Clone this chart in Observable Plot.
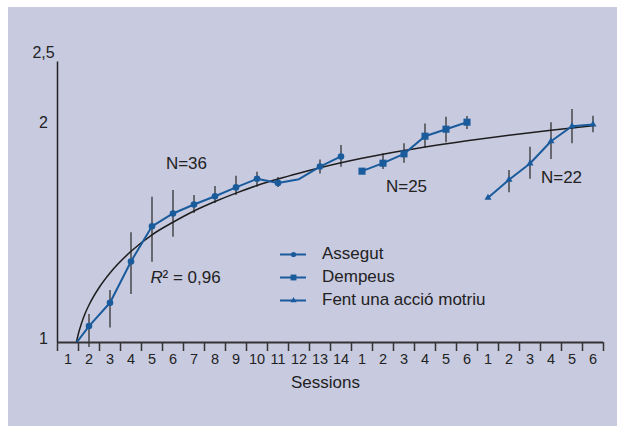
<!DOCTYPE html>
<html><head><meta charset="utf-8">
<script src="https://cdn.jsdelivr.net/npm/d3@7"></script>
<script src="https://cdn.jsdelivr.net/npm/@observablehq/plot@0.6"></script>
<style>
html,body{margin:0;padding:0;background:#fff;}
#frame{position:absolute;left:8px;top:7px;width:609px;height:419px;background:#c8cae0;overflow:hidden;}
#frame svg{position:absolute;left:0;top:0;font-family:"Liberation Sans",Arial,sans-serif;}
#legend{position:absolute;left:272px;top:235px;font-family:"Liberation Sans",Arial,sans-serif;font-size:17px;color:#222;}
#legend .row{display:flex;align-items:center;height:23px;}
#legend .row svg{position:static;margin-right:16px;}
</style></head><body><div id="frame"><div id="legend"></div></div>
<script>
// ---- data ----
const sessionLabels = [1,2,3,4,5,6,7,8,9,10,11,12,13,14, 1,2,3,4,5,6, 1,2,3,4,5,6];
const seriesNames = ["Assegut", "Dempeus", "Fent una acció motriu"];

const assegutPos   = [1,2,3,4,5,6,7,8,9,10,11,12,13,14];
const assegutValue = [0.964,1.054,1.136,1.297,1.452,1.513,1.557,1.599,1.645,1.691,1.669,1.689,1.759,1.817];
const assegutLow   = [null,0.984,1.048,1.167,1.294,1.402,1.513,1.562,1.603,1.646,1.645,null,1.718,1.755];
const assegutHigh  = [null,1.094,1.182,1.422,1.594,1.629,1.603,1.650,1.705,1.727,1.698,null,1.797,1.882];
const assegutMarker = [false,true,true,true,true,true,true,true,true,true,true,false,true,true];

const dempeusPos   = [15,16,17,18,19,20];
const dempeusValue = [1.733,1.778,1.832,1.939,1.983,2.028];
const dempeusLow   = [null,1.742,1.778,1.866,1.898,1.981];
const dempeusHigh  = [null,1.832,1.892,2.017,2.061,2.065];

const fentPos   = [21,22,23,24,25,26];
const fentValue = [1.591,1.686,1.776,1.908,2.002,2.013];
const fentLow   = [null,1.617,1.688,1.799,1.892,1.960];
const fentHigh  = [null,1.737,1.872,2.024,2.112,2.067];

// logarithmic fit curve
const fitPos   = [1.4,1.5,1.65,1.8,2,2.5,3,4,5,6,7,8,9,10,11,12,13,14,15,16,18,20,22,24,26];
const fitValue = [1.000,1.030,1.065,1.095,1.128,1.195,1.250,1.340,1.413,1.471,1.525,1.572,1.615,1.655,1.690,1.722,1.752,1.780,1.806,1.830,1.873,1.911,1.945,1.976,2.005];

const yTicks = [1, 2, 2.5];
const yTickLabels = ["1", "2", "2,5"];
const yAxisTop = 2.46;

const annotations = [
  {x: 6.64, y: 1.776, text: "N=36"},
  {x: 17.12, y: 1.650, text: "N=25"},
  {x: 24.5, y: 1.698, text: "N=22"}
];
const r2 = {x: 4.93, y: 1.232, text: "0,96"};

// ---- build ----
const blue = "#1a5b9c";
const mk = (pos, val, lo, hi, name) => pos.map((p, i) => ({pos: p, value: val[i], low: lo[i], high: hi[i], name}));
const assegut = mk(assegutPos, assegutValue, assegutLow, assegutHigh, seriesNames[0]);
const dempeus = mk(dempeusPos, dempeusValue, dempeusLow, dempeusHigh, seriesNames[1]);
const fent = mk(fentPos, fentValue, fentLow, fentHigh, seriesNames[2]);
const errs = [...assegut, ...dempeus, ...fent].filter(d => d.low != null);
const fit = fitPos.map((p, i) => ({pos: p, value: fitValue[i]}));
const boundaries = d3.range(0.5, sessionLabels.length + 1, 1);
const centers = sessionLabels.map((_, i) => i + 1);

const chart = Plot.plot({
  width: 609, height: 419,
  marginLeft: 49, marginRight: 14, marginTop: 49.5, marginBottom: 84,
  style: {background: "transparent", fontFamily: "'Liberation Sans', Arial, sans-serif", color: "#222"},
  x: {type: "linear", domain: [0.5, sessionLabels.length + 0.5]},
  y: {type: "log", domain: [1, 2.5]},
  marks: [
    Plot.axisX({ticks: boundaries, tickSize: 9, tickFormat: () => "", stroke: "#333", strokeWidth: 1.5, label: null}),
    Plot.axisX({ticks: centers, tickSize: 0, tickPadding: 11, tickFormat: d => String(sessionLabels[d - 1]), fontSize: 14.5, fill: "#222", label: null}),
    Plot.axisY({ticks: yTicks, tickSize: 0, tickPadding: 14, textAnchor: "middle", dy: -4, tickFormat: d => yTickLabels[yTicks.indexOf(d)], fontSize: 16, fill: "#222", label: null}),
    Plot.ruleY([1], {stroke: "#333", strokeWidth: 2}),
    Plot.ruleX([0.5], {y1: 1, y2: yAxisTop, stroke: "#222", strokeWidth: 1.5}),
    Plot.text(["Sessions"], {frameAnchor: "bottom", dy: 45, dx: -5, fontSize: 17, fill: "#222"}),
    Plot.ruleX(errs, {x: "pos", y1: "low", y2: "high", stroke: "#333", strokeWidth: 1.3}),
    Plot.line(fit, {x: "pos", y: "value", curve: "monotone-x", stroke: "#1e1e1e", strokeWidth: 1.5, clip: true}),
    Plot.line(assegut, {x: "pos", y: "value", stroke: blue, strokeWidth: 2, clip: true}),
    Plot.line(dempeus, {x: "pos", y: "value", stroke: blue, strokeWidth: 2}),
    Plot.line(fent, {x: "pos", y: "value", stroke: blue, strokeWidth: 2}),
    Plot.dot(assegut.filter((d, i) => assegutMarker[i]), {x: "pos", y: "value", r: 3.3, fill: blue, symbol: "circle"}),
    Plot.dot(dempeus, {x: "pos", y: "value", r: 4, fill: blue, symbol: "square"}),
    Plot.dot(fent, {x: "pos", y: "value", r: 2.6, fill: blue, symbol: "triangle"}),
    Plot.text(annotations, {x: "x", y: "y", text: "text", fontSize: 17, fill: "#222"}),
    Plot.text([r2], {x: "x", y: "y", text: () => "R", fontStyle: "italic", textAnchor: "start", fontSize: 17, fill: "#222"}),
    Plot.text([r2], {x: "x", y: "y", text: d => "² = " + d.text, textAnchor: "start", dx: 12, fontSize: 17, fill: "#222"})
  ]
});
const frame = document.getElementById("frame");
frame.insertBefore(chart, frame.firstChild);

// legend
const legend = document.getElementById("legend");
const symbols = ["circle", "square", "triangle"];
seriesNames.forEach((name, i) => {
  const row = document.createElement("div");
  row.className = "row";
  const sw = Plot.plot({
    width: 26, height: 12, margin: 0, axis: null,
    style: {background: "transparent"},
    x: {domain: [0, 1]}, y: {domain: [0, 1]},
    marks: [
      Plot.ruleY([0.5], {stroke: blue, strokeWidth: 2}),
      Plot.dot([{x: 0.5, y: 0.5}], {x: "x", y: "y", r: [2.6, 3.3, 2.3][i], symbol: symbols[i], fill: blue})
    ]
  });
  row.appendChild(sw);
  const t = document.createElement("span");
  t.textContent = name;
  row.appendChild(t);
  legend.appendChild(row);
});
</script></body></html>
